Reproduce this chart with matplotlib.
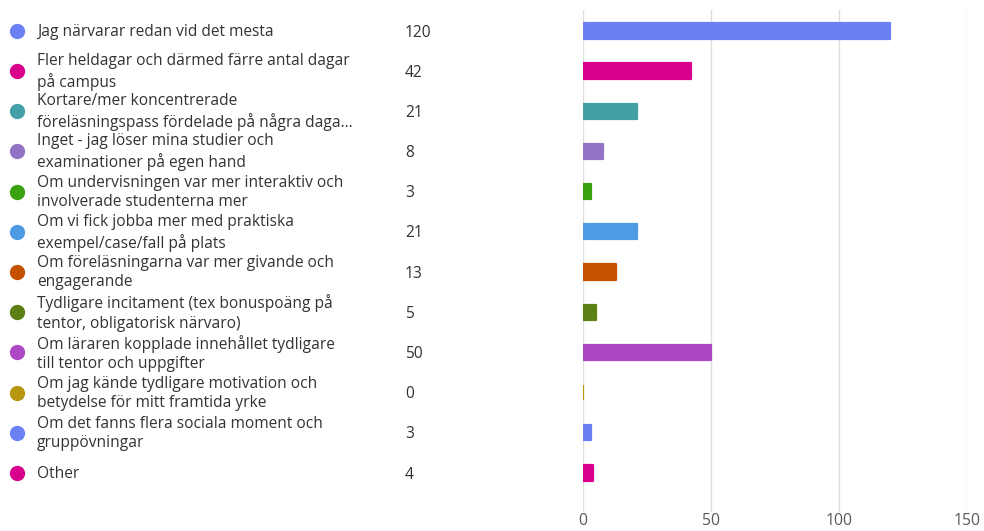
import matplotlib
matplotlib.use("Agg")
import matplotlib.pyplot as plt
from matplotlib.transforms import blended_transform_factory

# svarsalternativ och antal svar
labels = [
    "Jag närvarar redan vid det mesta",
    "Fler heldagar och därmed färre antal dagar\npå campus",
    "Kortare/mer koncentrerade\nföreläsningspass fördelade på några daga...",
    "Inget - jag löser mina studier och\nexaminationer på egen hand",
    "Om undervisningen var mer interaktiv och\ninvolverade studenterna mer",
    "Om vi fick jobba mer med praktiska\nexempel/case/fall på plats",
    "Om föreläsningarna var mer givande och\nengagerande",
    "Tydligare incitament (tex bonuspoäng på\ntentor, obligatorisk närvaro)",
    "Om läraren kopplade innehållet tydligare\ntill tentor och uppgifter",
    "Om jag kände tydligare motivation och\nbetydelse för mitt framtida yrke",
    "Om det fanns flera sociala moment och\ngruppövningar",
    "Other",
]
counts = [120, 42, 21, 8, 3, 21, 13, 5, 50, 0, 3, 4]
colors = ["#6b80f2", "#d9008b", "#43a0a6", "#9374c4", "#3aa10f", "#4e9be4",
          "#c45100", "#5c8014", "#ad47c4", "#b8960f", "#6b80f2", "#d9008b"]
xticks = [0, 50, 100, 150]

W, H = 984, 531
fig = plt.figure(figsize=(W / 100, H / 100), dpi=100)
ax = fig.add_axes([583 / W, 1 - 512 / H, (967 - 583) / W, (512 - 10) / H])

y = list(range(len(labels)))
bars = ax.barh(y, counts, height=0.38, color=colors, edgecolor=colors, linewidth=1.6, zorder=3)
for b in bars:
    b.set_joinstyle("round")
ax.set_xlim(0, 150)
ax.set_ylim(11.97, -0.52)
ax.set_xticks(xticks)
ax.set_yticks([])
ax.grid(axis="x", color="#dedede", linewidth=1, zorder=0)
for s in ax.spines.values():
    s.set_visible(False)
ax.tick_params(axis="x", length=0, pad=0.5, labelsize=11.3, labelcolor="#5a5a5a")
for t in ax.get_xticklabels():
    t.set_fontfamily("Open Sans")

tr = blended_transform_factory(fig.transFigure, ax.transData)
for i, (lab, n, c) in enumerate(zip(labels, counts, colors)):
    ax.plot([17 / W], [i], marker="o", markersize=10, color=c, transform=tr,
            clip_on=False, linestyle="none")
    ax.text(37 / W, i + 0.02, lab, transform=tr, va="center", ha="left",
            fontsize=11.2, color="#333333", family="Open Sans", linespacing=1.27)
    ax.text(405 / W, i + 0.04, str(n), transform=tr, va="center", ha="left",
            fontsize=11.2, color="#333333", family="Open Sans")

fig.savefig("out.png", dpi=100)
